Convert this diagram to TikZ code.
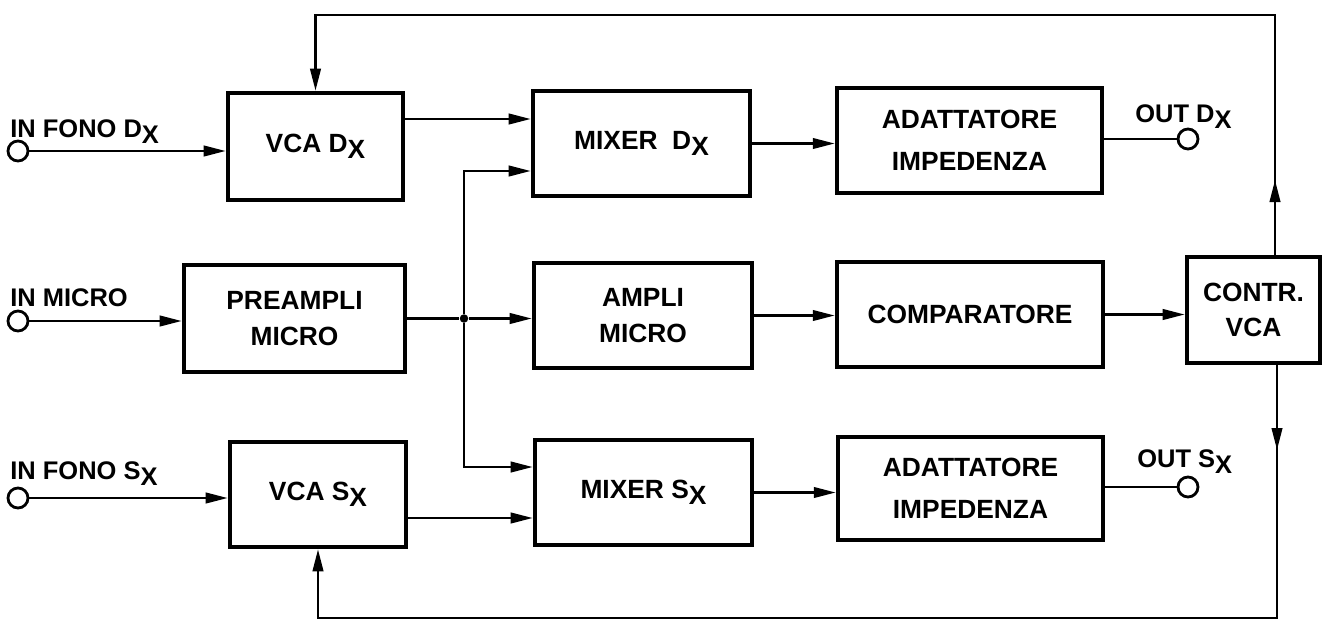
\documentclass[tikz,border=0pt]{standalone}
\usepackage{fontspec}
\setmainfont{Liberation Sans}
\usetikzlibrary{arrows.meta}
\newcommand{\Dx}{D\raisebox{-0.45ex}{X}}
\newcommand{\Sx}{S\raisebox{-0.45ex}{X}}

\begin{document}
\begin{tikzpicture}[
    x=0.02cm,y=-0.02cm,
    blk/.style={draw,line width=2.6pt,align=center,inner sep=0pt,
                font=\fontsize{15}{20}\selectfont\bfseries},
    arr/.style={-{Triangle[length=0.44cm,width=0.21cm]},line width=1.4pt},
    wire/.style={line width=1.4pt},
    term/.style={circle,draw,line width=1.6pt,minimum size=0.4cm,inner sep=0pt,fill=white},
    dot/.style={circle,fill,inner sep=0pt,minimum size=0.17cm},
    lbl/.style={anchor=base west,inner sep=0pt,font=\fontsize{14.5}{17}\selectfont\bfseries}
  ]
  \useasboundingbox (0,0) rectangle (1325,626);

  % Upper row (Dx)
  \node[blk,minimum width=3.5cm,minimum height=2.14cm] (vcad) at (315.5,146.5) {VCA \Dx};
  \node[blk,minimum width=4.34cm,minimum height=2.1cm] (mixd) at (641.5,143.5) {MIXER\ \ \Dx};
  \node[blk,minimum width=5.3cm,minimum height=2.1cm] (adad) at (969.5,140.5) {ADATTATORE\\[4pt]IMPEDENZA};

  % Middle row (micro)
  \node[blk,minimum width=4.42cm,minimum height=2.14cm] (pre) at (294.5,318.5) {PREAMPLI\\MICRO};
  \node[blk,minimum width=4.36cm,minimum height=2.1cm] (amp) at (643,315.5) {AMPLI\\MICRO};
  \node[blk,minimum width=5.32cm,minimum height=2.1cm] (comp) at (970,314.5) {COMPARATORE};
  \node[blk,minimum width=2.66cm,minimum height=2.12cm] (contr) at (1253.5,310) {CONTR.\\VCA};

  % Lower row (Sx)
  \node[blk,minimum width=3.52cm,minimum height=2.1cm] (vcas) at (318,494.5) {VCA \Sx};
  \node[blk,minimum width=4.34cm,minimum height=2.1cm] (mixs) at (643.5,492.5) {MIXER \Sx};
  \node[blk,minimum width=5.3cm,minimum height=2.06cm] (adas) at (970.5,488.5) {ADATTATORE\\[4pt]IMPEDENZA};

  % Terminals and labels
  \node[term] (ind) at (18,151) {};
  \node[term] (inm) at (18,321) {};
  \node[term] (ins) at (18,498) {};
  \node[term] (outd) at (1188,139) {};
  \node[term] (outs) at (1188,487) {};
  \node[lbl] (lind) at (10,137) {IN FONO \Dx};
  \node[lbl] (linm) at (10,306) {IN MICRO};
  \node[lbl] (lins) at (10,479) {IN FONO \Sx};
  \node[lbl] (loutd) at (1135,122) {OUT \Dx};
  \node[lbl] (louts) at (1137,467) {OUT \Sx};

  % Signal path
  \draw[arr] (ind) -- (ind -| vcad.west);
  \draw[arr] ([yshift=0.55cm]vcad.east) -- ([yshift=0.55cm]vcad.east -| mixd.west);
  \draw[arr] (mixd.east) -- (mixd.east -| adad.west);
  \draw[wire] (adad.east |- outd) -- (outd);
  \draw[arr] (inm) -- (inm -| pre.west);
  \node[dot] (jn) at (464,318.5) {};
  \draw[wire] (pre.east) -- (jn);
  \draw[arr] (jn) -- (jn -| amp.west);
  \draw[arr] (jn) |- ([yshift=-0.55cm]mixd.west);
  \draw[arr] (jn) |- ([yshift=0.51cm]mixs.west);
  \draw[arr] (amp.east) -- (amp.east -| comp.west);
  \draw[arr] (comp.east) -- (comp.east -| contr.west);
  \draw[arr] (ins) -- (ins -| vcas.west);
  \draw[arr] ([yshift=-0.47cm]vcas.east) -- ([yshift=-0.47cm]vcas.east -| mixs.west);
  \draw[arr] (mixs.east) -- (mixs.east -| adas.west);
  \draw[wire] (adas.east |- outs) -- (outs);

  % Control loops
  \coordinate (fbt) at (1275,15);
  \coordinate (fbup) at (1275,180);
  \coordinate (fbdn) at (1277,450);
  \coordinate (fbb) at (1277,618);
  \draw[arr] (contr.north -| fbt) -- (fbt) -| (vcad.north);
  \draw[arr] (contr.north -| fbup) -- (fbup);
  \draw[arr] (contr.south -| fbb) -- (fbb) -| (vcas.south);
  \draw[arr] (contr.south -| fbdn) -- (fbdn);
\end{tikzpicture}
\end{document}
